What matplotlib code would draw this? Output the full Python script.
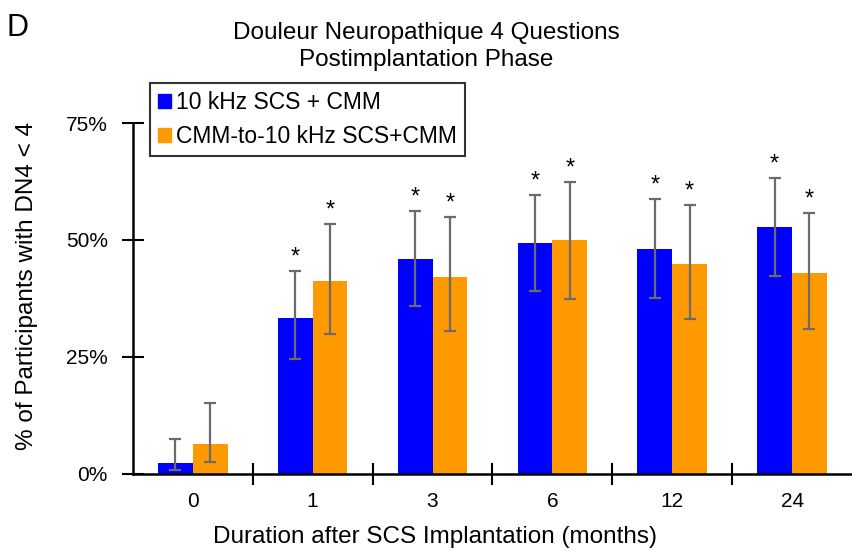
import matplotlib.pyplot as plt
import numpy as np
from matplotlib.patches import Patch

plt.rcParams['font.family'] = ['Liberation Sans', 'DejaVu Sans']

# values (percent)
months = ['0', '1', '3', '6', '12', '24']
scs = [2.2, 33.3, 45.9, 49.4, 48.1, 52.8]
scs_lo = [0.7, 24.5, 35.9, 39.1, 37.6, 42.3]
scs_hi = [7.5, 43.4, 56.2, 59.6, 58.8, 63.3]
cmm = [6.3, 41.2, 42.1, 50.0, 44.9, 42.9]
cmm_lo = [2.5, 29.9, 30.5, 37.4, 33.1, 30.9]
cmm_hi = [15.1, 53.4, 54.9, 62.4, 57.5, 55.8]
signif = [False, True, True, True, True, True]

blue = '#0000ff'
orange = '#ff9900'
err_color = '#6b6b6b'

fig = plt.figure(figsize=(8.52, 5.52), dpi=100)
ax = fig.add_axes([0.156, 0.142, 0.844, 0.635])

x = np.arange(len(months))
w = 0.29

for vals, lo, hi, off, col in [(scs, scs_lo, scs_hi, -w / 2, blue),
                               (cmm, cmm_lo, cmm_hi, w / 2, orange)]:
    vals = np.array(vals)
    yerr = [vals - np.array(lo), np.array(hi) - vals]
    ax.bar(x + off, vals, width=w, color=col, zorder=2)
    ax.errorbar(x + off, vals, yerr=yerr, fmt='none', ecolor=err_color,
                elinewidth=1.6, capsize=4.5, capthick=1.6, zorder=3)
    for xi, h, s in zip(x + off, hi, signif):
        if s:
            ax.text(xi, h + 0.5, '*', ha='center', va='bottom', fontsize=17)

ax.set_xlim(-0.5, 5.5)
ax.set_ylim(0, 75)
ax.set_yticks([0, 25, 50, 75])
ax.set_yticklabels(['0%', '25%', '50%', '75%'])
ax.set_xticks(x)
ax.set_xticklabels(months)
ax.set_xticks(np.arange(0.5, 5.0, 1.0), minor=True)
ax.tick_params(axis='x', which='major', length=0, labelsize=15, pad=13)
ax.tick_params(axis='x', which='minor', direction='inout', length=16, width=1.5)
ax.tick_params(axis='y', direction='inout', length=16, width=1.5, labelsize=15, pad=10)

for side in ['top', 'right']:
    ax.spines[side].set_visible(False)
for side in ['left', 'bottom']:
    ax.spines[side].set_linewidth(1.8)

fig.text(0.51, 0.027, 'Duration after SCS Implantation (months)',
         ha='center', va='center', fontsize=17.5)
fig.text(0.032, 0.482, '% of Participants with DN4 < 4',
         ha='center', va='center', rotation=90, fontsize=17.5)

fig.text(0.5, 0.916, 'Douleur Neuropathique 4 Questions\nPostimplantation Phase',
         ha='center', va='center', fontsize=17.5, linespacing=1.32)
fig.text(0.008, 0.95, 'D', ha='left', va='center', fontsize=22)

handles = [Patch(color=blue), Patch(color=orange)]
leg = fig.legend(handles, ['10 kHz SCS + CMM', 'CMM-to-10 kHz SCS+CMM'],
                 loc='upper left', bbox_to_anchor=(0.176, 0.85), fontsize=16.5,
                 frameon=True, fancybox=False, edgecolor='black',
                 handlelength=0.55, handleheight=0.55, handletextpad=0.25,
                 labelspacing=0.5, borderpad=0.35, borderaxespad=0)
leg.get_frame().set_linewidth(1.5)

fig.savefig('out.png', dpi=100)
